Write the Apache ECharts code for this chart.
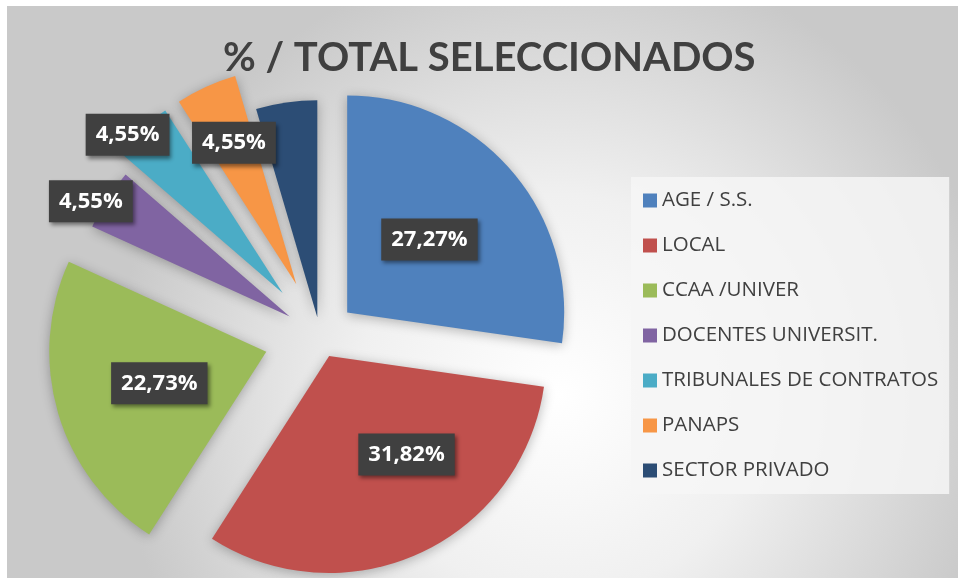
<!DOCTYPE html>
<html>
<head>
<meta charset="utf-8">
<script src="https://cdn.jsdelivr.net/npm/echarts@6/dist/echarts.min.js"></script>
<style>
  html, body { margin: 0; padding: 0; background: #fff; }
  #chart { position: absolute; left: 7px; top: 6px; width: 951px; height: 572px; }
</style>
</head>
<body>
<div id="chart"></div>
<script>
// data
var categories = ["AGE / S.S.", "LOCAL", "CCAA /UNIVER", "DOCENTES UNIVERSIT.",
  "TRIBUNALES DE CONTRATOS", "PANAPS", "SECTOR PRIVADO"];
var percents = [27.27, 31.82, 22.73, 4.55, 4.55, 4.55, 4.55];

// styling (per slice explosion and label nudges, like the excel original)
var colors = ["#4F81BD", "#C0504D", "#9BBB59", "#8064A2", "#4BACC6", "#F79646", "#2C4D75"];
var explode = [36, 22, 56, 36, 57, 57, 19];
var labelNudge = [[-2, 0], [31, -3], [0, 0], [-105, -55], [-82, -74], [-16, -40], [0, 0]];

var chart = echarts.init(document.getElementById("chart"));

var series = [];
for (var s = 0; s < categories.length; s++) {
  var data = [];
  for (var i = 0; i < categories.length; i++) {
    var mine = i === s;
    data.push({
      name: categories[i],
      value: percents[i],
      selected: mine,
      itemStyle: mine
        ? { color: colors[i], shadowBlur: 12, shadowColor: "rgba(0,0,0,0.28)", shadowOffsetY: 2 }
        : { color: "rgba(0,0,0,0)" },
      label: { show: mine }
    });
  }
  series.push({
    type: "pie",
    center: [313, 330],
    radius: 217,
    startAngle: 90,
    clockwise: true,
    selectedMode: "multiple",
    selectedOffset: explode[s],
    avoidLabelOverlap: false,
    silent: true,
    emphasis: { disabled: true },
    select: { itemStyle: { borderWidth: 0 } },
    labelLine: { show: false },
    labelLayout: { dx: labelNudge[s][0], dy: labelNudge[s][1] },
    label: {
      position: "inside",
      formatter: function (p) { return p.value.toFixed(2).replace(".", ",") + "%"; },
      color: "#fff",
      fontFamily: "Open Sans",
      fontWeight: "bold",
      fontSize: 22,
      lineHeight: 28,
      backgroundColor: "#404040",
      padding: [7, 10, 7, 10],
      shadowBlur: 4,
      shadowOffsetX: 2,
      shadowOffsetY: 3,
      shadowColor: "rgba(0,0,0,0.45)"
    },
    data: data
  });
}

chart.setOption({
  animation: false,
  backgroundColor: {
    type: "radial", x: 0.58, y: 0.68, r: 0.78,
    colorStops: [
      { offset: 0, color: "#ffffff" },
      { offset: 0.45, color: "#f0f0f0" },
      { offset: 1, color: "#c9c9c9" }
    ]
  },
  title: {
    text: "% / TOTAL SELECCIONADOS",
    left: 211,
    top: 27,
    textStyle: { fontFamily: "Lato", fontWeight: "bold", fontSize: 40, color: "#404040" }
  },
  legend: {
    orient: "vertical",
    left: 624,
    top: 171,
    padding: [13, 11, 13, 12],
    backgroundColor: "rgba(246,246,246,0.85)",
    itemWidth: 14,
    itemHeight: 14,
    itemGap: 24,
    icon: "rect",
    selectedMode: false,
    textStyle: { fontFamily: "Open Sans", fontSize: 20.5, lineHeight: 20, color: "#404040" },
    data: categories.map(function (c, i) {
      return { name: c, itemStyle: { color: colors[i] } };
    })
  },
  series: series
});
</script>
</body>
</html>
